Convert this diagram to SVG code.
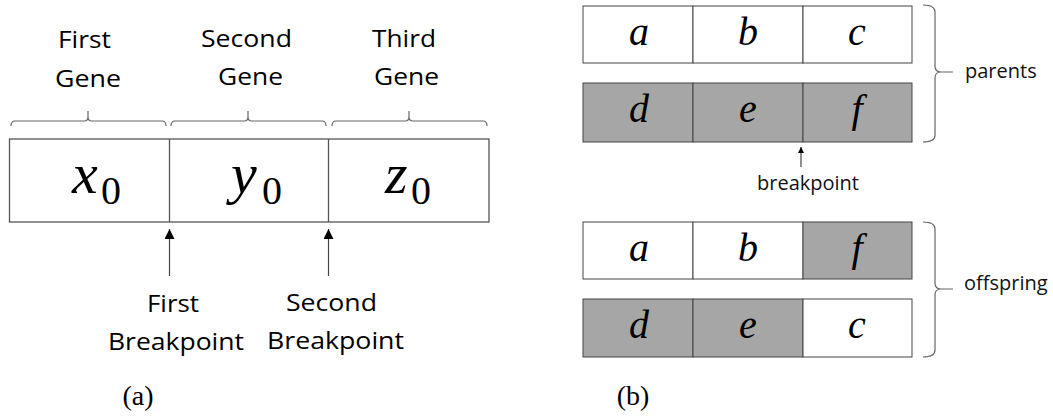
<svg xmlns="http://www.w3.org/2000/svg" width="1053" height="417" viewBox="0 0 1053 417">
<style>
.lbl{font-family:"Open Sans","Liberation Sans",sans-serif;font-size:24px;fill:#000;text-anchor:middle}
.sm{font-family:"Open Sans","Liberation Sans",sans-serif;font-size:20px;fill:#111}
.math{font-family:"Liberation Serif","Times New Roman",serif;font-style:italic;fill:#000}
.sub{font-family:"Liberation Serif","Times New Roman",serif;font-size:40px;fill:#000}
.cap{font-family:"Liberation Serif","Times New Roman",serif;font-size:28px;fill:#000;text-anchor:middle}
.box{fill:#fff;stroke:#555;stroke-width:1.3}
.cell{stroke:#444;stroke-width:1}
.w{fill:#fff}
.g{fill:#a6a6a6}
.brace{fill:none;stroke:#666;stroke-width:1.2}
.conn{stroke:#444;stroke-width:1.2;fill:none}
.letter{font-family:"Liberation Serif","Times New Roman",serif;font-style:italic;font-size:40px;fill:#000;text-anchor:middle}
</style>
<defs>
<marker id="ah" viewBox="0 0 10 10" refX="10" refY="5" markerWidth="10" markerHeight="10" markerUnits="userSpaceOnUse" orient="auto"><path d="M0,0 L10,5 L0,10 Z" fill="#000"/></marker>
<marker id="ahs" viewBox="0 0 10 10" refX="10" refY="5" markerWidth="6" markerHeight="6" markerUnits="userSpaceOnUse" orient="auto"><path d="M0,0 L10,5 L0,10 Z" fill="#000"/></marker>
</defs>

<!-- Panel (a) -->
<g id="gene-labels">
<text class="lbl" x="84.5" y="48" textLength="53" lengthAdjust="spacingAndGlyphs">First</text>
<text class="lbl" x="88" y="87" textLength="66" lengthAdjust="spacingAndGlyphs">Gene</text>
<text class="lbl" x="246.5" y="47" textLength="91" lengthAdjust="spacingAndGlyphs">Second</text>
<text class="lbl" x="250.5" y="85" textLength="65" lengthAdjust="spacingAndGlyphs">Gene</text>
<text class="lbl" x="404" y="47" textLength="64" lengthAdjust="spacingAndGlyphs">Third</text>
<text class="lbl" x="406.5" y="85" textLength="65" lengthAdjust="spacingAndGlyphs">Gene</text>
</g>
<g id="gene-braces">
<path class="brace" d="M11,126 Q11,121 15,121 H84 Q88,121 88,117 V111 M88,117 Q88,121 92,121 H162 Q166,121 166,126"/>
<path class="brace" d="M171,126 Q171,121 175,121 H244 Q248,121 248,117 V111 M248,117 Q248,121 252,121 H322 Q326,121 326,126"/>
<path class="brace" d="M332,126 Q332,121 336,121 H405 Q409,121 409,117 V111 M409,117 Q409,121 413,121 H483 Q487,121 487,126"/>
</g>
<g id="chromosome">
<rect class="box" x="9.5" y="139" width="479.5" height="83"/>
<line class="box" x1="169.5" y1="139" x2="169.5" y2="222"/>
<line class="box" x1="328.5" y1="139" x2="328.5" y2="222"/>
<text x="72" y="193"><tspan class="math" font-size="58">x</tspan><tspan class="sub" x="101" y="204">0</tspan></text>
<text x="231" y="193"><tspan class="math" font-size="58">y</tspan><tspan class="sub" x="262" y="204">0</tspan></text>
<text x="385" y="193"><tspan class="math" font-size="58">z</tspan><tspan class="sub" x="411" y="204">0</tspan></text>
</g>
<g id="breakpoint-labels">
<text class="lbl" x="173" y="312" textLength="52" lengthAdjust="spacingAndGlyphs">First</text>
<text class="lbl" x="176" y="350" textLength="136" lengthAdjust="spacingAndGlyphs">Breakpoint</text>
<text class="lbl" x="331.5" y="311" textLength="91" lengthAdjust="spacingAndGlyphs">Second</text>
<text class="lbl" x="335.5" y="349" textLength="137" lengthAdjust="spacingAndGlyphs">Breakpoint</text>
</g>
<text class="cap" x="138" y="405">(a)</text>

<!-- Panel (b) -->
<g id="parent1">
<rect class="cell w" x="583" y="6" width="110" height="57"/>
<rect class="cell w" x="693" y="6" width="110" height="57"/>
<rect class="cell w" x="803" y="6" width="109" height="57"/>
<text class="letter" x="639" y="45">a</text>
<text class="letter" x="748" y="45">b</text>
<text class="letter" x="857" y="45">c</text>
</g>
<g id="parent2">
<rect class="cell g" x="583" y="83" width="110" height="59"/>
<rect class="cell g" x="693" y="83" width="110" height="59"/>
<rect class="cell g" x="803" y="83" width="109" height="59"/>
<text class="letter" x="639" y="122">d</text>
<text class="letter" x="748" y="122">e</text>
<text class="letter" x="857" y="122">f</text>
</g>
<g id="offspring1">
<rect class="cell w" x="583" y="222" width="110" height="57"/>
<rect class="cell w" x="693" y="222" width="110" height="57"/>
<rect class="cell g" x="803" y="222" width="109" height="57"/>
<text class="letter" x="639" y="261">a</text>
<text class="letter" x="748" y="261">b</text>
<text class="letter" x="857" y="261">f</text>
</g>
<g id="offspring2">
<rect class="cell g" x="583" y="299" width="110" height="58"/>
<rect class="cell g" x="693" y="299" width="110" height="58"/>
<rect class="cell w" x="803" y="299" width="109" height="58"/>
<text class="letter" x="639" y="338">d</text>
<text class="letter" x="748" y="338">e</text>
<text class="letter" x="857" y="338">c</text>
</g>
<g id="parents-brace">
<path class="brace" d="M923,5 Q935,5 935,12 V66 Q935,72 941,72 Q935,72 935,78 V135 Q935,142 923,142 M941,72 H953"/>
<text class="sm" x="965" y="78">parents</text>
</g>
<g id="offspring-brace">
<path class="brace" d="M923,222 Q935,222 935,229 V283 Q935,289 941,289 Q935,289 935,295 V350 Q935,357 923,357 M941,289 H953"/>
<text class="sm" x="964" y="290">offspring</text>
</g>
<text class="sm" x="808" y="190" text-anchor="middle">breakpoint</text>
<text class="cap" x="633" y="405">(b)</text>

<g id="connectors">
<line class="conn" x1="169.5" y1="276" x2="169.5" y2="229" marker-end="url(#ah)"/>
<line class="conn" x1="328.5" y1="276" x2="328.5" y2="229" marker-end="url(#ah)"/>
<line class="conn" x1="801" y1="167" x2="801" y2="147" stroke-width="1" marker-end="url(#ahs)"/>
</g>
</svg>
